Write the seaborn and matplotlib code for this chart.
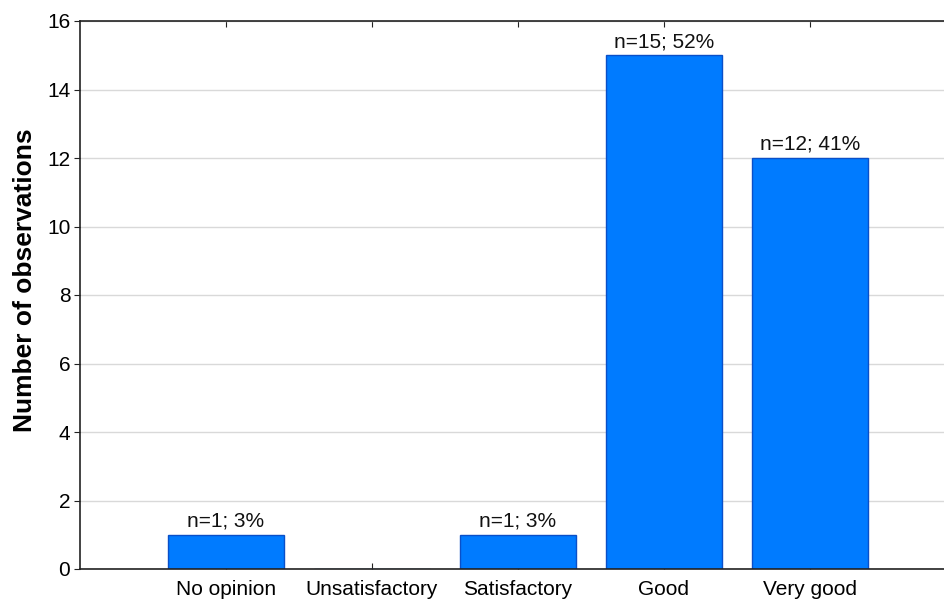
import numpy as np
import pandas as pd
import matplotlib
matplotlib.use('Agg')
import matplotlib.pyplot as plt
import seaborn as sns

categories = ['No opinion', 'Unsatisfactory', 'Satisfactory', 'Good', 'Very good']
counts = [1, 0, 1, 15, 12]
y_ticks = [0, 2, 4, 6, 8, 10, 12, 14, 16]

total = sum(counts)
df = pd.DataFrame({'category': categories, 'count': counts})

sns.set_style('white')
plt.rcParams['font.family'] = ['Liberation Sans', 'DejaVu Sans']

fig = plt.figure(figsize=(9.45, 5.99), dpi=100)
ax = fig.add_axes([80 / 945, 30 / 599, 865 / 945, 548 / 599])

sns.barplot(data=df, x='category', y='count', order=categories,
            color='#007BFF', saturation=1, width=0.8,
            edgecolor='#0A4FC8', linewidth=1, ax=ax)

# one empty slot on the left like the original chart
ax.set_xlim(-1, 4.925)
ax.set_ylim(0, 16)
ax.set_yticks(y_ticks)
ax.yaxis.grid(True, color='#d9d9d9', linewidth=1)
ax.set_axisbelow(True)

for i, c in enumerate(counts):
    if c > 0:
        pct = round(100 * c / total)
        ax.annotate(f'n={c}; {pct}%', (i, c), xytext=(0, 3), textcoords='offset points',
                    ha='center', va='bottom', fontsize=15, color='#111111')

ax.set_xlabel('')
ax.set_ylabel('Number of observations', fontsize=19, fontweight='bold', color='black')
ax.yaxis.set_label_coords(-0.05, 0.527)

for side in ['left', 'top', 'bottom']:
    ax.spines[side].set_visible(True)
    ax.spines[side].set_color('#222222')
    ax.spines[side].set_linewidth(1.2)
ax.spines['right'].set_visible(False)

ax.tick_params(axis='x', direction='in', top=True, bottom=True, length=4,
               labelsize=15, pad=8, color='#222222', labelcolor='black')
ax.tick_params(axis='y', direction='out', left=True, length=4,
               labelsize=15, pad=3, color='#222222', labelcolor='black')

plt.savefig('out.png', dpi=100)
plt.close()
